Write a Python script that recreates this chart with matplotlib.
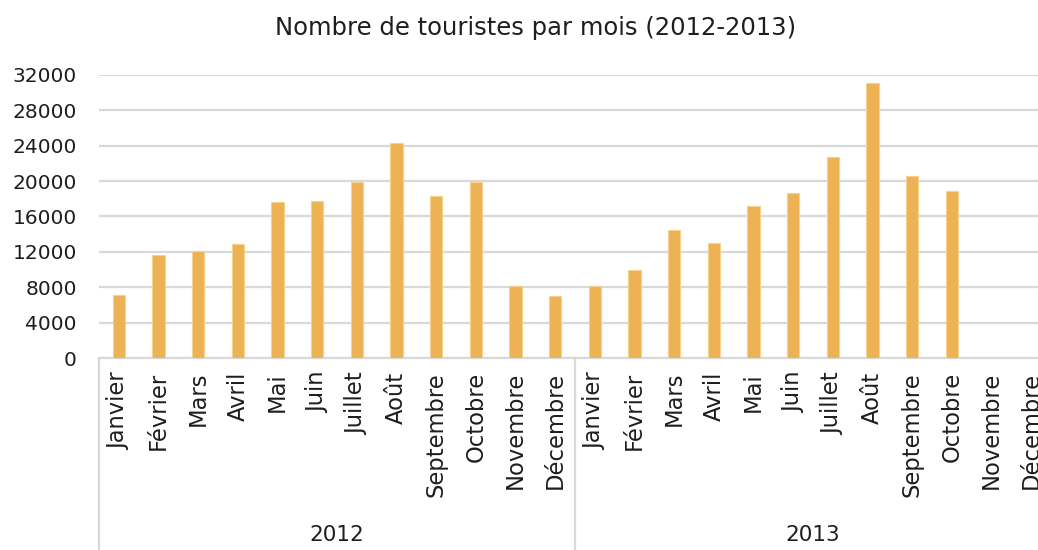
import matplotlib
matplotlib.use("Agg")
import matplotlib.pyplot as plt
import matplotlib.transforms as mtransforms
import numpy as np

title = "Nombre de touristes par mois (2012-2013)"
months = ["Janvier", "Février", "Mars", "Avril", "Mai", "Juin", "Juillet",
          "Août", "Septembre", "Octobre", "Novembre", "Décembre"]
years = ["2012", "2013"]
values_2012 = [7150, 11630, 12050, 12900, 17660, 17730, 19950, 24320, 18300, 19880, 8170, 7000]
values_2013 = [8090, 9940, 14460, 13030, 17240, 18640, 22740, 31100, 20560, 18860, np.nan, np.nan]
yticks = [0, 4000, 8000, 12000, 16000, 20000, 24000, 28000, 32000]

plt.rcParams['font.family'] = ['DejaVu Sans']
text_color = '#1e1e1e'
bar_color = '#EDB254'
grid_color = '#D9D9D9'

W, H = 1038, 550
fig = plt.figure(figsize=(W / 100, H / 100), dpi=100)
left_px, right_px, top_px, bottom_px = 99, 1051, 75, 358
ax = fig.add_axes([left_px / W, 1 - bottom_px / H, (right_px - left_px) / W, (bottom_px - top_px) / H])

values = values_2012 + values_2013
labels = months * len(years)
x = np.arange(len(values))
ax.bar(x, values, width=0.31, color=bar_color, edgecolor='#F7D28F', linewidth=0.8, zorder=3)

ax.set_xlim(-0.5, len(values) - 0.5)
ax.set_ylim(0, 32000)
ax.set_yticks(yticks)
ax.set_yticklabels([str(v) for v in yticks], fontsize=14.5, color=text_color)
ax.yaxis.grid(True, color=grid_color, linewidth=1.6, zorder=0)
ax.tick_params(axis='y', length=0, pad=16)
for s in ['top', 'right', 'left']:
    ax.spines[s].set_visible(False)
ax.spines['bottom'].set_color(grid_color)
ax.spines['bottom'].set_linewidth(1.6)

ax.set_xticks(x)
ax.set_xticklabels(labels, rotation=90, fontsize=16.3, color=text_color, va='top', ha='center')
ax.tick_params(axis='x', length=0, pad=10)

# group separators and year labels
trans = mtransforms.blended_transform_factory(ax.transData, fig.transFigure)
for b in [-0.5, 11.5, 23.5]:
    ax.plot([b, b], [1 - bottom_px / H, 0], transform=trans, color=grid_color,
            linewidth=1.6, clip_on=False)
for i, yr in enumerate(years):
    ax.text(i * 12 + 5.5, 1 - 535 / H, yr, transform=trans, ha='center', va='center',
            fontsize=15.5, color=text_color)

fig.text(536 / W, 1 - 28 / H, title, ha='center', va='center', fontsize=17.5, color=text_color)

fig.savefig("out.png", dpi=100)
